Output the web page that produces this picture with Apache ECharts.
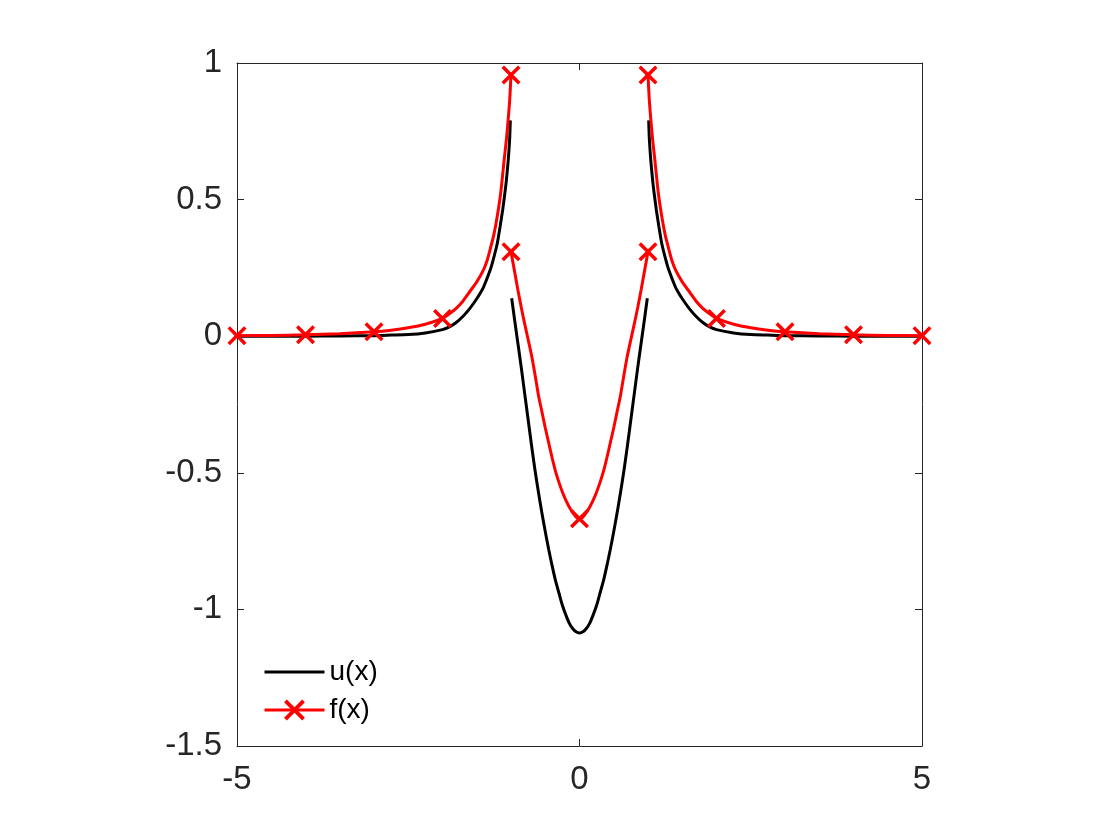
<!DOCTYPE html>
<html>
<head>
<meta charset="utf-8">
<script src="https://cdn.jsdelivr.net/npm/echarts@6/dist/echarts.min.js"></script>
<style>
  html, body { margin: 0; padding: 0; background: #fff; }
  #main { width: 1120px; height: 840px; }
</style>
</head>
<body>
<div id="main"></div>
<script>
// u(x): black curve (null = jump at x = -1 and x = 1)
var uX = [-5, -4.5, -4, -3.5, -3, -2.75, -2.5, -2.25, -2, -1.9, -1.8, -1.7, -1.6, -1.5, -1.45, -1.4, -1.3, -1.26, -1.2, -1.16, -1.12, -1.09, -1.07, -1.04, -1.02, -1.01,
          null,
          -0.99, -0.95, -0.9, -0.85, -0.8, -0.75, -0.7, -0.65, -0.6, -0.55, -0.5, -0.45, -0.4, -0.35, -0.3, -0.25, -0.2, -0.15, -0.1, -0.05, 0,
          0.05, 0.1, 0.15, 0.2, 0.25, 0.3, 0.35, 0.4, 0.45, 0.5, 0.55, 0.6, 0.65, 0.7, 0.75, 0.8, 0.85, 0.9, 0.95, 0.99,
          null,
          1.01, 1.02, 1.04, 1.07, 1.09, 1.12, 1.16, 1.2, 1.26, 1.3, 1.4, 1.45, 1.5, 1.6, 1.7, 1.8, 1.9, 2, 2.25, 2.5, 2.75, 3, 3.5, 4, 4.5, 5];
var uY = [0.0, 0.0, 0.0, 0.001, 0.002, 0.004, 0.006, 0.012, 0.024, 0.034, 0.05, 0.073, 0.102, 0.137, 0.157, 0.18, 0.245, 0.279, 0.34, 0.4, 0.465, 0.523, 0.565, 0.645, 0.72, 0.79,
          null,
          0.139, 0.065, -0.025, -0.115, -0.21, -0.305, -0.4, -0.49, -0.57, -0.645, -0.715, -0.78, -0.84, -0.895, -0.94, -0.985, -1.02, -1.05, -1.07, -1.082, -1.086,
          -1.082, -1.07, -1.05, -1.02, -0.985, -0.94, -0.895, -0.84, -0.78, -0.715, -0.645, -0.57, -0.49, -0.4, -0.305, -0.21, -0.115, -0.025, 0.065, 0.139,
          null,
          0.79, 0.72, 0.645, 0.565, 0.523, 0.465, 0.4, 0.34, 0.279, 0.245, 0.18, 0.157, 0.137, 0.102, 0.073, 0.05, 0.034, 0.024, 0.012, 0.006, 0.004, 0.002, 0.001, 0.0, 0.0, 0.0];

// f(x): red curve, markers sit on the integer x values
var fX = [-5, -4.5, -4, -3.5, -3, -2.75, -2.5, -2.25, -2, -1.9, -1.8, -1.7, -1.62, -1.5, -1.4, -1.35, -1.3, -1.25, -1.2, -1.15, -1.1, -1.07, -1.05, -1.02, -1,
          null,
          -1, -0.95, -0.9, -0.85, -0.8, -0.75, -0.7, -0.65, -0.6, -0.55, -0.5, -0.45, -0.4, -0.35, -0.3, -0.25, -0.2, -0.15, -0.1, -0.05, 0,
          0.05, 0.1, 0.15, 0.2, 0.25, 0.3, 0.35, 0.4, 0.45, 0.5, 0.55, 0.6, 0.65, 0.7, 0.75, 0.8, 0.85, 0.9, 0.95, 1,
          null,
          1, 1.02, 1.05, 1.07, 1.1, 1.15, 1.2, 1.25, 1.3, 1.35, 1.4, 1.5, 1.62, 1.7, 1.8, 1.9, 2, 2.25, 2.5, 2.75, 3, 3.5, 4, 4.5, 5];
var fY = [0.002, 0.003, 0.005, 0.009, 0.016, 0.022, 0.031, 0.044, 0.065, 0.082, 0.102, 0.129, 0.157, 0.199, 0.244, 0.276, 0.322, 0.372, 0.44, 0.525, 0.645, 0.714, 0.767, 0.86, 0.956,
          null,
          0.309, 0.24, 0.17, 0.105, 0.045, -0.012, -0.07, -0.14, -0.215, -0.275, -0.335, -0.39, -0.445, -0.495, -0.535, -0.57, -0.6, -0.625, -0.645, -0.662, -0.668,
          -0.662, -0.645, -0.625, -0.6, -0.57, -0.535, -0.495, -0.445, -0.39, -0.335, -0.275, -0.215, -0.14, -0.07, -0.012, 0.045, 0.105, 0.17, 0.24, 0.309,
          null,
          0.956, 0.86, 0.767, 0.714, 0.645, 0.525, 0.44, 0.372, 0.322, 0.276, 0.244, 0.199, 0.157, 0.129, 0.102, 0.082, 0.065, 0.044, 0.031, 0.022, 0.016, 0.009, 0.005, 0.003, 0.002];

var crossPath = 'path://M0,2.6L2.6,0L10,7.4L17.4,0L20,2.6L12.6,10L20,17.4L17.4,20L10,12.6L2.6,20L0,17.4L7.4,10Z';
var axisColor = '#262626';
var fontFamily = '"Liberation Sans", Arial, Helvetica, sans-serif';

function pairs(xs, ys) {
  var out = [];
  for (var i = 0; i < xs.length; i++) {
    out.push(xs[i] === null ? [null, null] : [xs[i], ys[i]]);
  }
  return out;
}

var uData = pairs(uX, uY);
var fData = pairs(fX, fY).map(function (p) {
  if (p[0] !== null && Number.isInteger(p[0])) return { value: p };
  return { value: p, symbol: 'none' };
});

var myChart = echarts.init(document.getElementById('main'));

var axisBase = {
  type: 'value',
  axisLine: { show: true, onZero: false, lineStyle: { color: axisColor, width: 1 } },
  axisTick: { show: true, inside: true, length: 7, lineStyle: { color: axisColor, width: 1 } },
  splitLine: { show: false }
};

option = {
  animation: false,
  backgroundColor: '#ffffff',
  grid: { left: 237, right: 198, top: 63, bottom: 94, containLabel: false },
  legend: {
    orient: 'vertical',
    left: 258,
    top: 652,
    itemWidth: 60,
    itemHeight: 26,
    itemGap: 8,
    lineStyle: { width: 3 },
    data: [
      { name: 'u(x)', itemStyle: { opacity: 0 } },
      { name: 'f(x)' }
    ],
    textStyle: { fontSize: 28, color: '#000', fontFamily: fontFamily, lineHeight: 30 }
  },
  xAxis: [
    Object.assign({}, axisBase, {
      position: 'bottom', min: -5, max: 5, interval: 5,
      axisLabel: { show: true, fontSize: 33, color: axisColor, fontFamily: fontFamily, margin: 17 }
    }),
    Object.assign({}, axisBase, {
      position: 'top', min: -5, max: 5, interval: 5,
      axisLabel: { show: false }
    })
  ],
  yAxis: [
    Object.assign({}, axisBase, {
      position: 'left', min: -1.5, max: 1, interval: 0.5,
      axisLabel: { show: true, fontSize: 33, color: axisColor, fontFamily: fontFamily, margin: 15 }
    }),
    Object.assign({}, axisBase, {
      position: 'right', min: -1.5, max: 1, interval: 0.5,
      axisLabel: { show: false }
    })
  ],
  series: [
    {
      name: 'u(x)',
      type: 'line',
      data: uData,
      symbol: 'none',
      smooth: 0.2,
      connectNulls: false,
      lineStyle: { color: '#000000', width: 3 },
      itemStyle: { color: '#000000' },
      z: 2
    },
    {
      name: 'f(x)',
      type: 'line',
      data: fData,
      symbol: crossPath,
      symbolSize: 19,
      showSymbol: true,
      smooth: 0.2,
      connectNulls: false,
      lineStyle: { color: '#ff0000', width: 3 },
      itemStyle: { color: '#ff0000' },
      z: 3
    }
  ]
};

myChart.setOption(option);
</script>
</body>
</html>
